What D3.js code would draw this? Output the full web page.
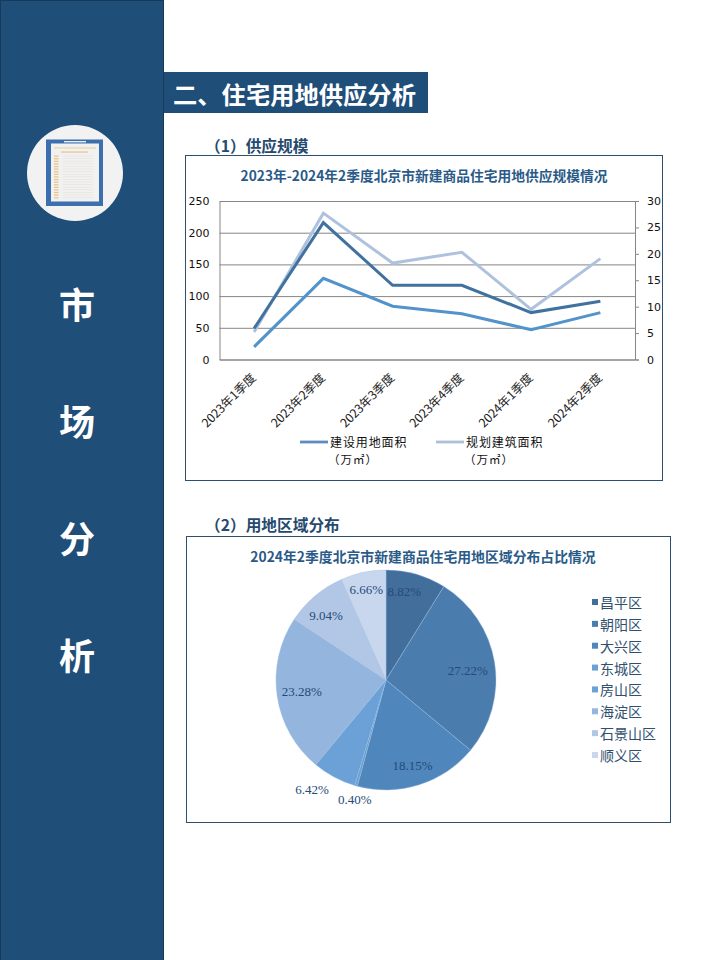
<!DOCTYPE html>
<html><head><meta charset="utf-8">
<script src="https://cdn.jsdelivr.net/npm/d3@7/dist/d3.min.js"></script>
<style>html,body{margin:0;padding:0;background:#fff}svg{display:block}text{font-family:"Noto Sans CJK SC",sans-serif}</style>
</head><body><svg id="c" width="720" height="960"></svg>
<script>
const quarters = ["2023年1季度","2023年2季度","2023年3季度","2023年4季度","2024年1季度","2024年2季度"];
const darkLine = [49,216,117,117,74,92];
const landArea = [20,128,84,72,47,74];
const buildArea = [5.2,27.7,18.25,20.3,9.5,19.1];
const leftTicks = [0,50,100,150,200,250];
const rightTicks = [0,5,10,15,20,25,30];
const districts = ["昌平区","朝阳区","大兴区","东城区","房山区","海淀区","石景山区","顺义区"];
const shares = [8.82,27.22,18.15,0.40,6.42,23.28,9.04,6.66];
const sliceColors = ["#426e9b","#4a7dae","#4f87bd","#6ba1d6","#6ba1d6","#94b5de","#b2c7e5","#c8d7ee"];
const sideChars = ["市","场","分","析"];

const navy="#1f4e79", svg=d3.select("#c");
const text=(x,y,s,o={})=>svg.append("text").attr("x",x).attr("y",y).attr("text-anchor",o.a||"start").attr("dominant-baseline","central")
  .attr("font-size",o.s||12).attr("font-weight",o.w||400).attr("fill",o.f||"#000").attr("letter-spacing",o.l||0).style("font-family",o.ff||null).text(s);

// sidebar
svg.append("rect").attr("x",0.5).attr("y",0.5).attr("width",163).attr("height",960).attr("fill",navy).attr("stroke","#163a5c");
svg.append("circle").attr("cx",75).attr("cy",173).attr("r",48).attr("fill","#f2f2f2");
svg.append("rect").attr("x",46).attr("y",139.5).attr("width",57).attr("height",66.5).attr("fill","#3c6fae");
svg.append("rect").attr("x",51).attr("y",143.5).attr("width",48).attr("height",58).attr("fill","#f1f1f1");
svg.append("rect").attr("x",64).attr("y",141).attr("width",22).attr("height",1.4).attr("fill","#e8eef5");
svg.append("rect").attr("x",54).attr("y",147.5).attr("width",42).attr("height",0.9).attr("fill","#edc98f");
svg.append("rect").attr("x",61).attr("y",151.5).attr("width",27).attr("height",1.1).attr("fill","#e6c084");
d3.range(17).forEach(i=>{
  svg.append("rect").attr("x",54).attr("y",155.5+i*2.6).attr("width",4.5).attr("height",1.3).attr("fill","#efc48a");
  svg.append("rect").attr("x",63).attr("y",155.7+i*2.6).attr("width",30).attr("height",0.6).attr("fill","#e6e2da");
});
sideChars.forEach((c,i)=>text(77,303+i*117,c,{a:"middle",s:36,w:700,f:"#fff"}));

// section heading
svg.append("rect").attr("x",164).attr("y",72).attr("width",264).attr("height",41).attr("fill",navy);
text(173,93.5,"二、住宅用地供应分析",{s:24.3,w:700,f:"#fff"});
text(205,145.5,"（1）供应规模",{s:15.7,w:700,f:"#264a6e"});
text(205,524.5,"（2）用地区域分布",{s:15.7,w:700,f:"#264a6e"});

// chart frames
svg.append("rect").attr("x",185.5).attr("y",155.5).attr("width",477).attr("height",325).attr("fill","#fff").attr("stroke","#2f4f6f");
svg.append("rect").attr("x",186.5).attr("y",536.5).attr("width",484).attr("height",286).attr("fill","#fff").attr("stroke","#2f4f6f");
text(424,175,"2023年-2024年2季度北京市新建商品住宅用地供应规模情况",{a:"middle",s:13.75,w:700,f:"#2a5a88"});
text(423,556,"2024年2季度北京市新建商品住宅用地区域分布占比情况",{a:"middle",s:13.85,w:700,f:"#2a5a88"});

// line chart
const L=219.5,R=635,T=201,B=359.5,grid="#868686";
const x=d3.scalePoint().domain(quarters).range([L,R]).padding(0.5);
const yL=d3.scaleLinear().domain([0,250]).range([B,T]);
const yR=d3.scaleLinear().domain([0,30]).range([B,T]);
const ax=svg.append("g").attr("transform",`translate(${L},0)`).call(d3.axisLeft(yL).tickValues(leftTicks).tickSize(-(R-L)).tickPadding(10));
ax.selectAll("line").attr("stroke",grid).attr("stroke-width",1);
ax.select(".domain").attr("stroke",grid);
ax.selectAll("text").attr("font-size",11).attr("fill","#111").style("font-family","DejaVu Sans");
const ar=svg.append("g").attr("transform",`translate(${R},0)`).call(d3.axisRight(yR).tickValues(rightTicks).tickSize(4).tickPadding(8));
ar.selectAll("line").attr("stroke",grid);
ar.select(".domain").attr("stroke",grid);
ar.selectAll("text").attr("font-size",11).attr("fill","#111").style("font-family","DejaVu Sans");
const line=s=>d3.line().x((d,i)=>x(quarters[i])).y(d=>s(d));
[[buildArea,yR,"#aec2de"],[darkLine,yL,"#41719f"],[landArea,yL,"#5393cb"]].forEach(([d,s,c])=>
  svg.append("path").datum(d).attr("d",line(s)).attr("fill","none").attr("stroke",c).attr("stroke-width",3).attr("stroke-linejoin","miter"));
quarters.forEach(q=>svg.append("text").attr("transform",`translate(${x(q)-1},375) rotate(-45)`).attr("text-anchor","end")
  .attr("dominant-baseline","central").attr("font-size",12.2).attr("fill","#222").text(q));

// line legend
[[300,"#5e8cc2","建设用地面积"],[436,"#adc0da","规划建筑面积"]].forEach(([lx,c,t])=>{
  svg.append("line").attr("x1",lx).attr("x2",lx+28).attr("y1",442).attr("y2",442).attr("stroke",c).attr("stroke-width",2.8);
  text(lx+30,441,t,{s:12,l:0.9,f:"#111"});
  text(lx+28,459,"（万㎡）",{s:11.5,l:1,f:"#111"});
});

// pie
const cx=386,cy=680,rad=110;
const pie=d3.pie().sort(null)(shares);
const arc=d3.arc().innerRadius(0).outerRadius(rad);
const g=svg.append("g").attr("transform",`translate(${cx},${cy})`);
g.selectAll("path").data(pie).join("path").attr("d",arc).attr("fill",(d,i)=>sliceColors[i]).attr("stroke","#9dbde0").attr("stroke-width",0.4);
const labelR=[85,85,85,125,125,85,85,85];
const nudge=[[-5,-7],[-2,4],[1,4],[3,-1],[-15,-1],[0,-1],[-5,0],[-2,-7]];
pie.forEach((d,i)=>{
  const c=d3.arc().innerRadius(labelR[i]).outerRadius(labelR[i]).centroid(d);
  text(cx+c[0]+nudge[i][0],cy+c[1]+nudge[i][1],d.value.toFixed(2)+"%",{a:"middle",s:13,f:"#264a78",ff:"Liberation Serif"});
});
const ly=d3.scalePoint().domain(districts).range([602,755]);
districts.forEach((n,i)=>{
  svg.append("rect").attr("x",592).attr("y",ly(n)-3).attr("width",6).attr("height",6).attr("fill",sliceColors[i]);
  text(600,ly(n),n,{s:14,f:"#2f4f6f"});
});
</script></body></html>
